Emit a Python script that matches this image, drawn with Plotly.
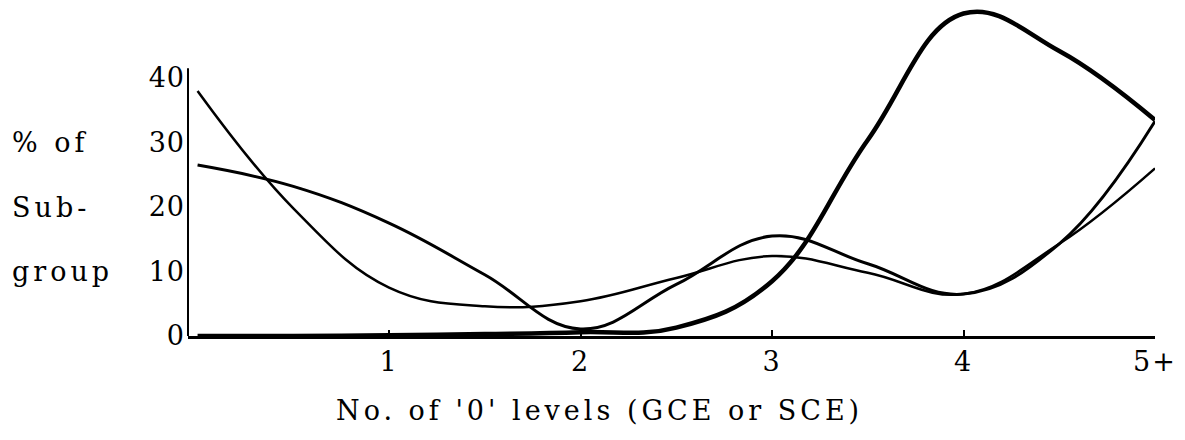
import plotly.graph_objects as go

# x positions (No. of 'O' levels) where curves were read
x_vals = [0, 0.5, 1, 1.5, 2, 2.5, 3, 3.5, 4, 4.5, 5]
tick_vals = [1, 2, 3, 4, 5]
tick_text = ["1", "2", "3", "4", "5+"]
y_tick_vals = [0, 10, 20, 30, 40]
y_tick_text = ["0", "10", "20", "30", "40"]

# % of sub-group
series_thick = [0, 0, 0.1, 0.3, 0.6, 1.3, 8.5, 30.4, 50, 44.2, 33.5]
series_medium = [26.5, 23.2, 17.5, 9.5, 1.1, 8, 15.5, 11.2, 6.5, 14.3, 33.3]
series_thin = [38.0, 19.8, 7.5, 4.6, 5.4, 9, 12.4, 9.8, 6.5, 14.3, 26.0]

FONT = "DejaVu Serif"
FS = 27


def spaced(s, px):
    return f'<span style="letter-spacing:{px}px">{s}</span>'


fig = go.Figure()
for ys, w in [(series_medium, 3), (series_thin, 2.5), (series_thick, 4.5)]:
    fig.add_trace(go.Scatter(
        x=x_vals, y=ys, mode="lines",
        line=dict(color="black", width=w, shape="spline", smoothing=1.15),
        showlegend=False, hoverinfo="skip",
    ))

L, R, T, B = 188, 30, 0, 104
W, H = 1185, 440
plot_w = W - L - R
plot_h = H - T - B

fig.update_layout(
    width=W, height=H,
    margin=dict(l=L, r=R, t=T, b=B),
    paper_bgcolor="white", plot_bgcolor="white",
    font=dict(family=FONT, size=FS, color="black"),
    xaxis=dict(
        range=[-0.05, 5.0], showgrid=False, zeroline=False,
        showline=True, linecolor="black", linewidth=3,
        tickmode="array", tickvals=tick_vals,
        ticktext=[spaced(t, 2) for t in tick_text],
        ticks="inside", ticklen=6, tickwidth=1.5, tickcolor="black",
        tickfont=dict(family=FONT, size=FS),
    ),
    yaxis=dict(
        range=[0, 52.1], showgrid=False, zeroline=False, showline=False,
        tickmode="array", tickvals=y_tick_vals,
        ticktext=[spaced(t, 1) for t in y_tick_text],
        ticks="", tickfont=dict(family=FONT, size=FS),
        ticklabelstandoff=2,
    ),
)

# y-axis line (only up to just above 40)
fig.add_shape(type="line", xref="paper", yref="y", x0=0, x1=0, y0=0, y1=41.5,
              line=dict(color="black", width=2))

# left-side axis title lines
for txt, yv in [("% of", 30), ("Sub-", 20), ("group", 10)]:
    fig.add_annotation(text=spaced(txt, 4), xref="paper", yref="y",
                       x=(10 - L) / plot_w, y=yv, xanchor="left", yanchor="middle",
                       showarrow=False, font=dict(family=FONT, size=FS))

fig.add_annotation(text=spaced("No. of '0' levels (GCE or SCE)", 4),
                   xref="paper", yref="paper",
                   x=(599 - L) / plot_w, y=(plot_h - 410 + T) / plot_h,
                   xanchor="center", yanchor="middle", showarrow=False,
                   font=dict(family=FONT, size=FS))

fig.write_html("out.html", post_script="document.body.style.margin='0';",
               config={"displayModeBar": False})
